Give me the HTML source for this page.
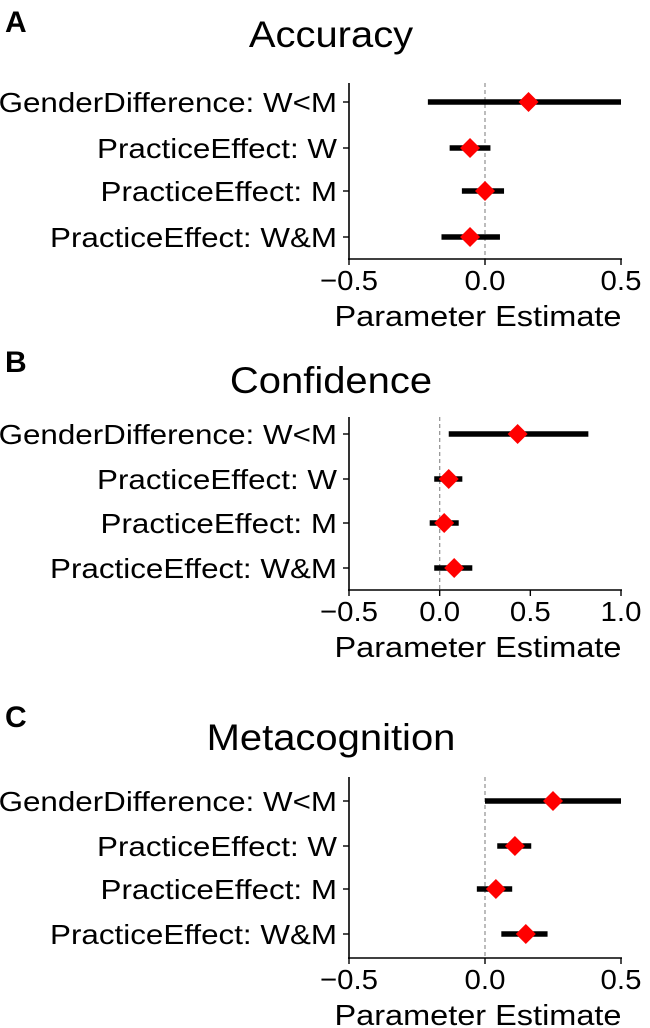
<!DOCTYPE html>
<html><head><meta charset="utf-8"><style>
html,body{margin:0;padding:0;background:#fff;}
svg{display:block;font-family:"Liberation Sans",sans-serif;}
</style></head><body>
<svg id="fig" width="650" height="1028" viewBox="0 0 650 1028"></svg>
<script>
const categories = ["GenderDifference: W<M","PracticeEffect: W","PracticeEffect: M","PracticeEffect: W&M"];
const accEst = [0.16, -0.055, 0.0, -0.055];
const accLo = [-0.21, -0.13, -0.085, -0.16];
const accHi = [0.5, 0.02, 0.07, 0.055];
const accTicks = [-0.5, 0.0, 0.5];
const accTickLabels = ["\u22120.5","0.0","0.5"];
const confEst = [0.43, 0.05, 0.025, 0.08];
const confLo = [0.05, -0.03, -0.055, -0.03];
const confHi = [0.82, 0.125, 0.105, 0.18];
const confTicks = [-0.5, 0.0, 0.5, 1.0];
const confTickLabels = ["\u22120.5","0.0","0.5","1.0"];
const metaEst = [0.25, 0.11, 0.04, 0.15];
const metaLo = [0.0, 0.045, -0.03, 0.06];
const metaHi = [0.5, 0.17, 0.1, 0.23];
const metaTicks = [-0.5, 0.0, 0.5];
const metaTickLabels = ["\u22120.5","0.0","0.5"];

const NS="http://www.w3.org/2000/svg";
const svg=document.getElementById('fig');
function mk(tag,attrs,parent,text){const e=document.createElementNS(NS,tag);for(const k in attrs)e.setAttribute(k,attrs[k]);if(text!==undefined)e.textContent=text;(parent||svg).appendChild(e);return e;}
function stretch(t,k){const w=t.getComputedTextLength();t.setAttribute('textLength',w*k);t.setAttribute('lengthAdjust','spacingAndGlyphs');}

const panels=[
 {letter:"A",title:"Accuracy",est:accEst,lo:accLo,hi:accHi,ticks:accTicks,tl:accTickLabels,xmin:-0.5,xmax:0.5,top:83,axisY:259,rows:[102,148,191,237],letterY:32,titleY:47},
 {letter:"B",title:"Confidence",est:confEst,lo:confLo,hi:confHi,ticks:confTicks,tl:confTickLabels,xmin:-0.5,xmax:1.0,top:417,axisY:590,rows:[434,479,523,568],letterY:372,titleY:393},
 {letter:"C",title:"Metacognition",est:metaEst,lo:metaLo,hi:metaHi,ticks:metaTicks,tl:metaTickLabels,xmin:-0.5,xmax:0.5,top:777,axisY:958,rows:[801,846,889,934],letterY:727,titleY:750}
];
const X0=349,X1=621;
panels.forEach((p,pi)=>{
  const g=mk('g',{});
  
  
  const xs=v=>X0+(v-p.xmin)/(p.xmax-p.xmin)*(X1-X0);
  let t=mk('text',{x:5,y:p.letterY,'font-size':30,'font-weight':'bold'},g,p.letter);
  
  
  t=mk('text',{x:331,y:p.titleY,'font-size':37,'text-anchor':'middle'},g,p.title);
  
  
  stretch(t,1.08);
  let z=mk('line',{x1:xs(0),x2:xs(0),y1:p.top,y2:p.axisY,stroke:'#999','stroke-width':1.3,'stroke-dasharray':'4,3'},g);
  
  
  let s=mk('line',{x1:X0,x2:X0,y1:p.top,y2:p.axisY+1,stroke:'#000','stroke-width':1.6},g);
  
  
  s=mk('line',{x1:X0-1,x2:X1+1,y1:p.axisY,y2:p.axisY,stroke:'#000','stroke-width':1.6},g);
  
  
  p.ticks.forEach((v,i)=>{
    let tk=mk('line',{x1:xs(v),x2:xs(v),y1:p.axisY,y2:p.axisY+6,stroke:'#000','stroke-width':1.4},g);
    
    
    let lb=mk('text',{x:xs(v),y:p.axisY+31,'font-size':28,'text-anchor':'middle'},g,p.tl[i]);
    
    
    stretch(lb,1.05);
  });
  t=mk('text',{x:478,y:p.axisY+67,'font-size':29,'text-anchor':'middle'},g,'Parameter Estimate');
  
  
  t.setAttribute('textLength',287);
  t.setAttribute('lengthAdjust','spacingAndGlyphs');
  categories.forEach((c,i)=>{
    const y=p.rows[i];
    let tk=mk('line',{x1:X0-6,x2:X0,y1:y,y2:y,stroke:'#000','stroke-width':1.4},g);
    
    
    let lb=mk('text',{x:X0-12,y:y+10,'font-size':28,'text-anchor':'end'},g,c);
    
    
    stretch(lb,1.12);
    let e=mk('line',{x1:xs(p.lo[i]),x2:xs(p.hi[i]),y1:y,y2:y,stroke:'#000','stroke-width':5.5},g);
    
    
    const cx=xs(p.est[i]),r=10;
    let d=mk('polygon',{points:`${cx},${y-r} ${cx+r},${y} ${cx},${y+r} ${cx-r},${y}`,fill:'#ff0000'},g);
    
    
  });
});
</script>
</body></html>
